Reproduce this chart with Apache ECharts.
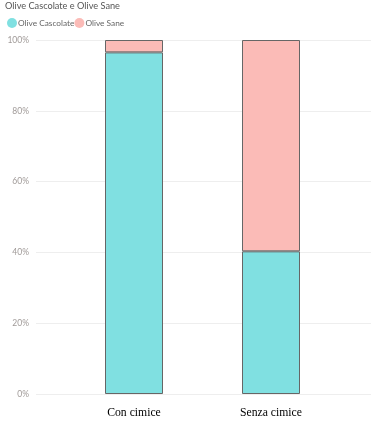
<!DOCTYPE html>
<html><head><meta charset="utf-8">
<script src="https://cdn.jsdelivr.net/npm/echarts@6/dist/echarts.min.js"></script>
<style>html,body{margin:0;padding:0;background:#fff}#c{width:386px;height:448px}</style>
</head><body><div id="c"></div>
<script>
const categories = ['Con cimice', 'Senza cimice'];
const seriesNames = ['Olive Cascolate', 'Olive Sane'];
const oliveCascolate = [0.965, 0.403];
const oliveSane = [0.035, 0.597];
const yTicks = [0, 0.2, 0.4, 0.6, 0.8, 1];

const colors = ['#80E0E1', '#FBBBB7'];
const chart = echarts.init(document.getElementById('c'), null, {renderer: 'canvas'});
chart.setOption({
  animation: false,
  title: {text: 'Olive Cascolate e Olive Sane', left: 5, top: 2, padding: 0,
    textStyle: {fontFamily: 'Lato', fontSize: 9.2, fontWeight: 'normal', color: '#555'}},
  legend: {left: 7, top: 18, padding: 0, icon: 'circle', itemWidth: 10, itemHeight: 10, itemGap: 0,
    data: seriesNames,
    itemStyle: {borderWidth: 0},
    textStyle: {fontFamily: 'Lato', fontSize: 8.3, color: '#666', padding: [0,0,0,-4]}},
  grid: [
    {left: 36, right: 15, top: 40, bottom: 54},
    {left: 65.5, right: 46.5, top: 40, bottom: 54}
  ],
  xAxis: [
    {gridIndex: 0, type: 'value', show: false},
    {gridIndex: 1, type: 'category', data: categories,
      axisLine: {show: false}, axisTick: {show: false},
      axisLabel: {margin: 13, fontFamily: 'Liberation Serif', fontSize: 11.7, color: '#000'}}
  ],
  yAxis: [
    {gridIndex: 0, type: 'value', min: 0, max: 1, interval: 0.2,
      axisLine: {show: false}, axisTick: {show: false},
      axisLabel: {margin: 7, fontFamily: 'Lato', fontSize: 8.5, color: '#a09a98',
        formatter: v => Math.round(v * 100) + '%'},
      splitLine: {lineStyle: {color: '#eeeeee', width: 1}}},
    {gridIndex: 1, type: 'value', min: 0, max: 1, show: false}
  ],
  series: [
    {name: seriesNames[0], type: 'bar', stack: 's', xAxisIndex: 1, yAxisIndex: 1,
      barWidth: 58, data: oliveCascolate,
      itemStyle: {color: colors[0], borderColor: '#666', borderWidth: 1}},
    {name: seriesNames[1], type: 'bar', stack: 's', xAxisIndex: 1, yAxisIndex: 1,
      barWidth: 58, data: oliveSane,
      itemStyle: {color: colors[1], borderColor: '#666', borderWidth: 1}}
  ]
});
</script></body></html>
